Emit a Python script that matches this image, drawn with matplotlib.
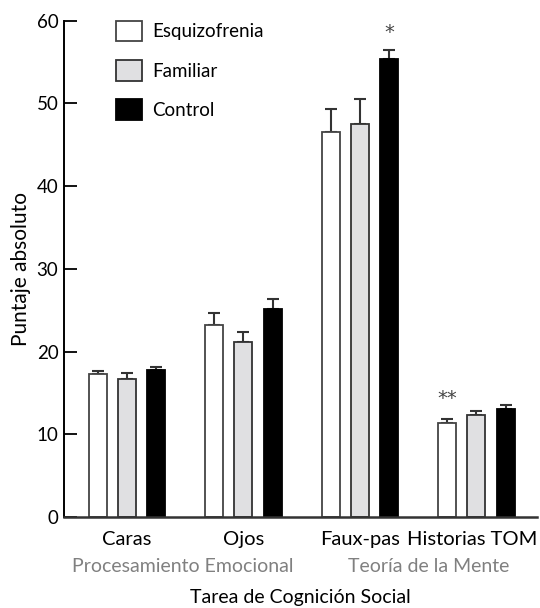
import matplotlib
matplotlib.use("Agg")
import matplotlib.pyplot as plt
import matplotlib.transforms as mtransforms
import numpy as np

plt.rcParams['font.family'] = ['Lato', 'DejaVu Sans']

categories = ['Caras', 'Ojos', 'Faux-pas', 'Historias TOM']
groups = ['Esquizofrenia', 'Familiar', 'Control']
esq = [17.3, 23.2, 46.5, 11.4]
esq_err = [0.3, 1.5, 2.8, 0.5]
fam = [16.7, 21.1, 47.5, 12.3]
fam_err = [0.7, 1.3, 3.0, 0.55]
ctrl = [17.8, 25.2, 55.3, 13.1]
ctrl_err = [0.3, 1.2, 1.2, 0.4]
domains = ['Procesamiento Emocional', 'Teoría de la Mente']
domain_pos = [0.48, 2.59]
yticks = [0, 10, 20, 30, 40, 50, 60]

fig = plt.figure(figsize=(5.4, 6.08), dpi=100)
ax = fig.add_axes([64/540, 1-517/608, (537-64)/540, (517-20.6)/608])

x = np.arange(len(categories))
width = 0.155
off = 0.25
series = [(esq, esq_err, 'white', '#444444'),
          (fam, fam_err, '#e0e0e2', '#333333'),
          (ctrl, ctrl_err, 'black', 'black')]
for i, (vals, errs, fc, ec) in enumerate(series):
    pos = x + (i - 1) * off
    ax.bar(pos, vals, width, color=fc, edgecolor=ec, linewidth=1.3,
           label=groups[i], zorder=2)
    ax.errorbar(pos, vals, yerr=[np.zeros(len(vals)), errs], fmt='none',
                ecolor='#333333', elinewidth=1.5, capsize=4.5, capthick=1.5,
                zorder=1)

# significance markers
ax.text(x[2] + off, 57.4, '*', ha='center', va='bottom', fontsize=14,
        color='#444444', family='DejaVu Sans')
ax.text(x[3] - off, 13.2, '**', ha='center', va='bottom', fontsize=14,
        color='#444444', family='DejaVu Sans')

ax.set_xlim(-0.54, 3.52)
ax.set_ylim(0, 60)
ax.set_yticks(yticks)
ax.set_xticks(x)
ax.set_xticklabels(categories, fontsize=14.5)
ax.tick_params(axis='x', length=0, pad=10)
ax.tick_params(axis='y', direction='in', length=9, width=1.3, labelsize=13.5, pad=4)
lab = ax.get_xticklabels()[-1]
lab.set_transform(lab.get_transform() + mtransforms.ScaledTranslation(-4/100, 0, fig.dpi_scale_trans))

for s in ['top', 'right']:
    ax.spines[s].set_visible(False)
ax.spines['left'].set_linewidth(1.4)
ax.spines['bottom'].set_linewidth(1.8)
ax.spines['bottom'].set_color('#333333')

trans = mtransforms.blended_transform_factory(ax.transData, ax.transAxes)
for d, p in zip(domains, domain_pos):
    ax.text(p, -0.1, d, transform=trans, ha='center', va='center',
            fontsize=14, color='#808080')

ax.set_ylabel('Puntaje absoluto', fontsize=15)
ax.set_xlabel('Tarea de Cognición Social', fontsize=14, va='center')
ax.xaxis.set_label_coords(0.5, (517 - 597) / 496.4)

ax.legend(loc='upper left', bbox_to_anchor=(116/540, 1-21/608),
          bbox_transform=fig.transFigure, frameon=False, fontsize=13.5,
          handlelength=1.4, handleheight=1.3, handletextpad=0.55,
          labelspacing=1.0, borderpad=0, borderaxespad=0)

fig.savefig('out.png', dpi=100)
